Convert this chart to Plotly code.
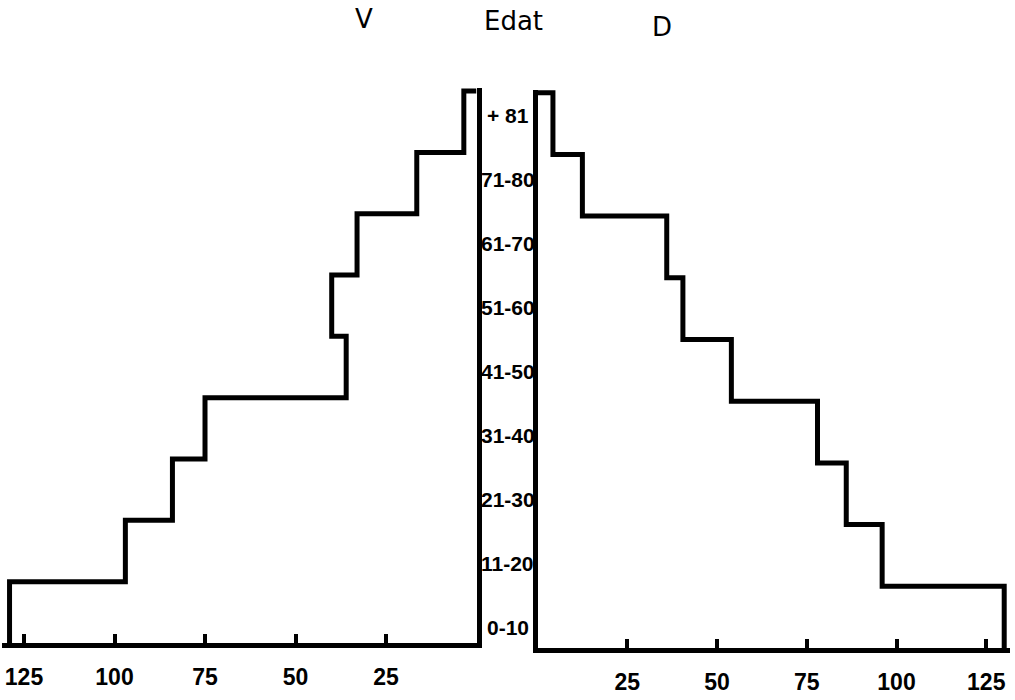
import plotly.graph_objects as go

# ---- data ----
age_groups = ["0-10", "11-20", "21-30", "31-40", "41-50", "51-60", "61-70", "71-80", "+ 81"]
values_V = [129, 97, 84, 75, 36, 40, 33, 16.5, 3.5]     # left panel (V)
values_D = [130, 96, 86, 78, 54, 40.5, 36, 12.5, 4.3]   # right panel (D)
tick_vals = [25, 50, 75, 100, 125]
tick_text = ["25", "50", "75", "100", "125"]
panel_titles = ["V", "Edat", "D"]

W, H = 1015, 700
LABEL_FONT = "Liberation Sans, Arial, sans-serif"
LINE = 5

band_edges = list(range(len(age_groups) + 1))

fig = go.Figure()
fig.add_trace(go.Scatter(
    x=values_V + [0], y=band_edges, mode="lines", line_shape="vh",
    line=dict(color="black", width=LINE), xaxis="x", yaxis="y",
    showlegend=False, hoverinfo="skip"))
fig.add_trace(go.Scatter(
    x=values_D + [0], y=band_edges, mode="lines", line_shape="vh",
    line=dict(color="black", width=LINE), xaxis="x2", yaxis="y2",
    showlegend=False, hoverinfo="skip"))

common_x = dict(
    showgrid=False, zeroline=False, showline=True, linecolor="black", linewidth=4.5,
    ticks="inside", ticklen=9, tickwidth=4, tickcolor="black",
    tickmode="array", tickvals=tick_vals, ticktext=tick_text,
    tickfont=dict(family=LABEL_FONT, size=23, color="black", weight="bold"),
    ticklabelstandoff=10, fixedrange=True)
common_y = dict(
    showgrid=False, zeroline=False, showline=True, linecolor="black", linewidth=4.5,
    showticklabels=False, ticks="", range=[0, 9.05], fixedrange=True)

fig.update_layout(
    width=W, height=H, autosize=False,
    margin=dict(l=0, r=0, t=0, b=0, pad=0),
    paper_bgcolor="white", plot_bgcolor="white",
    xaxis=dict(domain=[2.3 / W, 476.5 / W], range=[131, 0], anchor="y", **common_x),
    yaxis=dict(domain=[(H - 643) / H, (H - 88) / H], anchor="x", side="right", **common_y),
    xaxis2=dict(domain=[537.5 / W, 1009.6 / W], range=[0, 131.5], anchor="y2", **common_x),
    yaxis2=dict(domain=[(H - 648) / H, (H - 89.6) / H], anchor="x2", side="left", **common_y),
)

annotations = []
# panel titles
title_pos = [(364, 19), (513, 21), (662, 27)]
for t, (px, py) in zip(panel_titles, title_pos):
    annotations.append(dict(text=t, xref="paper", yref="paper", x=px / W, y=(H - py) / H,
                            xanchor="center", yanchor="middle", showarrow=False,
                            font=dict(family="DejaVu Sans, sans-serif", size=26, color="black")))
# age-group labels between the two panels
for i, lab in enumerate(age_groups):
    annotations.append(dict(text=lab, xref="paper", yref="y", x=507.5 / W, y=0.26 + i * 1.042,
                            xanchor="center", yanchor="middle", showarrow=False,
                            font=dict(family=LABEL_FONT, size=21, color="black", weight="bold")))
fig.update_layout(annotations=annotations)

fig.write_html("out.html", config={"displayModeBar": False},
               post_script="document.body.style.margin='0px';")
